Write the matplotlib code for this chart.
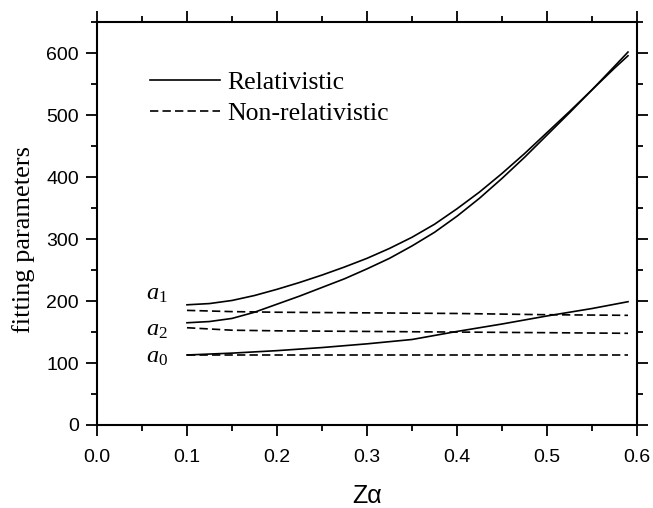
import matplotlib
matplotlib.use("Agg")
import matplotlib.pyplot as plt
from matplotlib.ticker import MultipleLocator

# Datenpunkte
x_rel = [0.1, 0.125, 0.15, 0.175, 0.2, 0.225, 0.25, 0.275, 0.3, 0.325, 0.35,
         0.375, 0.4, 0.425, 0.45, 0.475, 0.5, 0.525, 0.55, 0.575, 0.59]
a1_rel = [194, 196, 201, 209, 219, 230, 242, 255, 269, 285, 303,
          324, 349, 376, 406, 438, 472, 506, 541, 576, 596]
a2_rel = [165, 167, 172, 182, 195, 208, 222, 236, 252, 269, 289,
          311, 337, 366, 398, 432, 468, 504, 541, 579, 602]

x_a0 = [0.1, 0.15, 0.2, 0.25, 0.3, 0.35, 0.4, 0.45, 0.5, 0.55, 0.59]
a0_rel = [113, 116, 120, 125, 131, 138, 151, 163, 176, 188, 199]

x_nr = [0.1, 0.15, 0.2, 0.3, 0.4, 0.5, 0.59]
a1_nr = [185, 183, 182, 181, 180, 178, 177]
a2_nr = [157, 153, 152, 151, 150, 149, 148]
a0_nr = [113, 113, 113, 113, 113, 113, 113]

# Beschriftungen der Kurven
curve_labels = [r"$a_{\mathit{1}}$", r"$a_{\mathit{2}}$", r"$a_{\mathit{0}}$"]
label_x = [0.055, 0.055, 0.055]
label_y = [203, 144, 100]

plt.rcParams["mathtext.fontset"] = "custom"
plt.rcParams["mathtext.rm"] = "Liberation Serif"
plt.rcParams["mathtext.it"] = "Liberation Serif:italic"
serif = "Liberation Serif"
sans = "Liberation Sans"

fig = plt.figure(figsize=(6.53, 5.08), dpi=100)
ax = fig.add_axes([0.1485, 0.1634, 0.827, 0.7927])

lw = 1.2
dash = (5, 2.5)
ax.plot(x_rel, a1_rel, "k-", lw=lw, label="Relativistic")
ax.plot(x_nr, a1_nr, "k--", lw=lw, dashes=dash, label="Non-relativistic")
ax.plot(x_rel, a2_rel, "k-", lw=lw)
ax.plot(x_nr, a2_nr, "k--", lw=lw, dashes=dash)
ax.plot(x_a0, a0_rel, "k-", lw=lw)
ax.plot(x_nr, a0_nr, "k--", lw=lw, dashes=dash)

for lab, lx, ly in zip(curve_labels, label_x, label_y):
    ax.text(lx, ly, lab, fontsize=17.5, ha="left", va="baseline")

# Achsen
ax.set_xlim(0, 0.6)
ax.set_ylim(0, 650)
ax.xaxis.set_major_locator(MultipleLocator(0.1))
ax.xaxis.set_minor_locator(MultipleLocator(0.05))
ax.yaxis.set_major_locator(MultipleLocator(100))
ax.yaxis.set_minor_locator(MultipleLocator(50))
ax.tick_params(which="both", direction="out", top=True, right=True, width=1.3)
ax.tick_params(which="major", length=8, labelsize=14)
ax.tick_params(which="minor", length=4.5)
ax.tick_params(axis="x", which="major", pad=9)
ax.tick_params(axis="y", which="major", pad=5)
for lbl in ax.get_xticklabels() + ax.get_yticklabels():
    lbl.set_family(sans)
for s in ax.spines.values():
    s.set_linewidth(1.5)

ax.set_xlabel("Zα", fontsize=18, family=sans, labelpad=13)
ax.set_ylabel("fitting parameters", fontsize=19, family=serif)
ax.yaxis.set_label_coords(-0.115, 0.46)

# Legende
ax.legend(loc="upper left", bbox_to_anchor=(0.08, 0.905), frameon=False,
          prop={"family": serif, "size": 18.5}, handlelength=2.7,
          handletextpad=0.3, labelspacing=0.3, borderaxespad=0)

fig.savefig("out.png", dpi=100)
